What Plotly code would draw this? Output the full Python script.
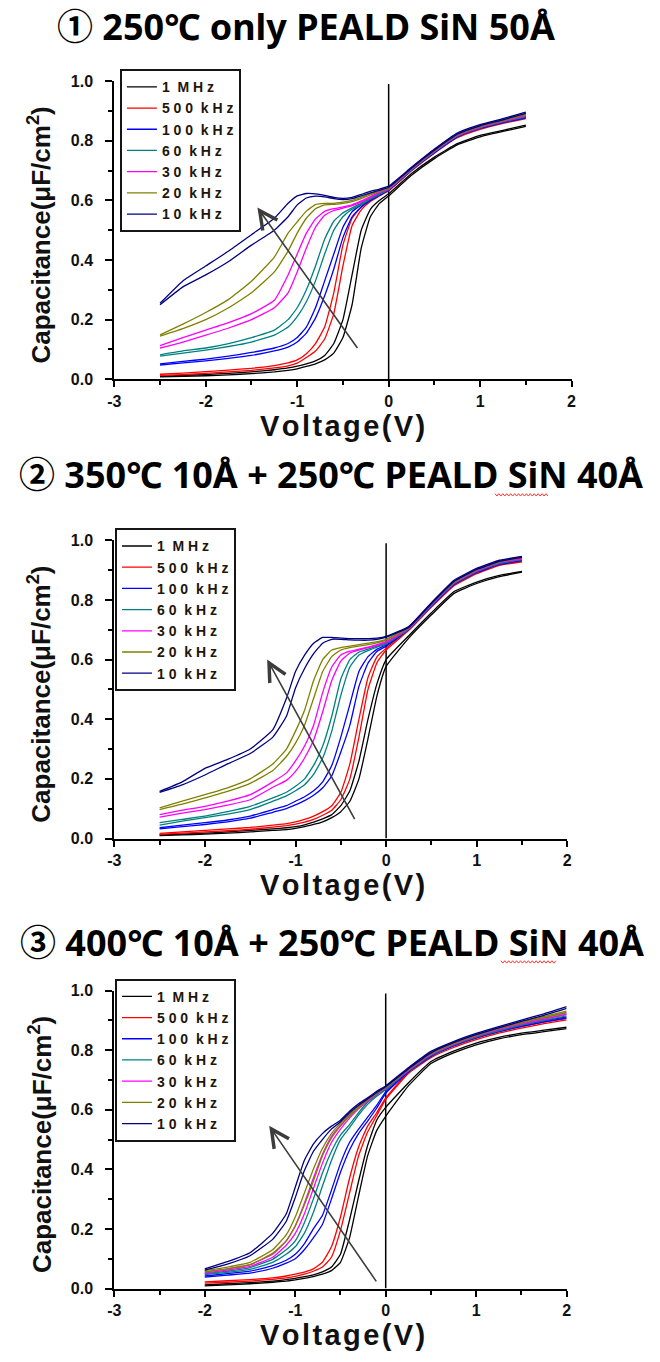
import plotly.graph_objects as go

# ---------------- data ----------------
V12 = [-2.5, -2.25, -2.0, -1.75, -1.5, -1.25, -1.1, -1.0, -0.9, -0.8, -0.7, -0.6,
       -0.5, -0.4, -0.3, -0.2, -0.1, 0.0, 0.25, 0.5, 0.75, 1.0, 1.25, 1.5]
V3 = [-2.0, -1.75, -1.5, -1.25, -1.1, -1.0, -0.9, -0.8, -0.7, -0.6, -0.5, -0.4,
      -0.3, -0.2, -0.1, 0.0, 0.25, 0.5, 0.75, 1.0, 1.25, 1.5, 1.75, 2.0]

FREQ_NAMES = ["1 MHz", "500 kHz", "100 kHz", "60 kHz", "30 kHz", "20 kHz", "10 kHz"]
LEGEND_TEXT = ["1\u00a0\u00a0M\u00a0H\u00a0z", "5\u00a00\u00a00\u00a0\u00a0k\u00a0H\u00a0z",
               "1\u00a00\u00a00\u00a0\u00a0k\u00a0H\u00a0z", "6\u00a00\u00a0\u00a0k\u00a0H\u00a0z",
               "3\u00a00\u00a0\u00a0k\u00a0H\u00a0z", "2\u00a00\u00a0\u00a0k\u00a0H\u00a0z",
               "1\u00a00\u00a0\u00a0k\u00a0H\u00a0z"]
COLORS = ["#000000", "#ff0000", "#0000ff", "#008080", "#ff00ff", "#808000", "#000080"]

TITLES = ["\u2460 250\u2103 only PEALD SiN 50\u00c5",
          "\u2461 350\u2103 10\u00c5 + 250\u2103 PEALD SiN 40\u00c5",
          "\u2462 400\u2103 10\u00c5 + 250\u2103 PEALD SiN 40\u00c5"]
X_TITLE = "V\u200ao\u200al\u200at\u200aa\u200ag\u200ae\u200a(\u200aV\u200a)"
Y_TITLE = "Capacitance(\u03bcF/cm<sup>2</sup>)"

X_TICKS = [-3, -2, -1, 0, 1, 2]
X_TICK_LABELS = ["-3", "-2", "-1", "0", "1", "2"]
Y_TICKS = [0.0, 0.2, 0.4, 0.6, 0.8, 1.0]
Y_TICK_LABELS = ["0.0", "0.2", "0.4", "0.6", "0.8", "1.0"]

# Panel 1 : 250C only PEALD SiN 50A  (A / B = the two sweep directions)
P1_1M_A = [0.010,0.013,0.016,0.020,0.025,0.032,0.038,0.044,0.052,0.062,0.080,0.120,0.200,0.350,0.500,0.570,0.600,0.622,0.690,0.745,0.790,0.818,0.835,0.852]
P1_1M_B = [0.008,0.010,0.012,0.015,0.019,0.025,0.030,0.035,0.043,0.052,0.065,0.088,0.140,0.250,0.440,0.545,0.590,0.615,0.684,0.740,0.786,0.813,0.831,0.848]
P1_500K_A = [0.017,0.021,0.026,0.031,0.037,0.046,0.055,0.065,0.086,0.120,0.175,0.290,0.450,0.540,0.578,0.600,0.618,0.634,0.702,0.762,0.814,0.842,0.862,0.878]
P1_500K_B = [0.013,0.016,0.020,0.025,0.030,0.038,0.045,0.054,0.073,0.095,0.135,0.220,0.380,0.515,0.568,0.596,0.615,0.632,0.699,0.758,0.810,0.838,0.858,0.874]
P1_100K_A = [0.052,0.060,0.068,0.078,0.090,0.105,0.120,0.140,0.175,0.240,0.330,0.420,0.510,0.562,0.585,0.603,0.620,0.636,0.704,0.764,0.817,0.845,0.865,0.881]
P1_100K_B = [0.048,0.055,0.062,0.070,0.080,0.095,0.108,0.125,0.155,0.205,0.280,0.370,0.475,0.545,0.578,0.600,0.617,0.634,0.701,0.760,0.813,0.841,0.861,0.877]
P1_60K_A = [0.082,0.095,0.105,0.120,0.140,0.165,0.200,0.240,0.300,0.380,0.470,0.530,0.558,0.575,0.590,0.607,0.623,0.638,0.705,0.766,0.819,0.847,0.867,0.884]
P1_60K_B = [0.078,0.088,0.098,0.110,0.125,0.148,0.175,0.210,0.260,0.330,0.420,0.500,0.545,0.570,0.586,0.604,0.620,0.636,0.702,0.762,0.815,0.843,0.863,0.880]
P1_30K_A = [0.113,0.140,0.165,0.190,0.220,0.265,0.350,0.420,0.490,0.538,0.563,0.572,0.578,0.585,0.598,0.613,0.628,0.640,0.707,0.768,0.821,0.849,0.869,0.887]
P1_30K_B = [0.105,0.125,0.148,0.172,0.200,0.240,0.290,0.360,0.440,0.510,0.550,0.566,0.574,0.582,0.595,0.610,0.626,0.638,0.704,0.764,0.817,0.845,0.865,0.883]
P1_20K_A = [0.149,0.185,0.224,0.268,0.329,0.410,0.490,0.528,0.564,0.586,0.590,0.590,0.594,0.600,0.610,0.622,0.632,0.643,0.709,0.770,0.823,0.851,0.871,0.891]
P1_20K_B = [0.145,0.170,0.200,0.240,0.290,0.360,0.430,0.490,0.540,0.572,0.585,0.587,0.590,0.596,0.606,0.618,0.630,0.641,0.706,0.766,0.819,0.847,0.867,0.887]
P1_10K_A = [0.255,0.330,0.380,0.430,0.485,0.540,0.590,0.615,0.623,0.622,0.617,0.610,0.607,0.610,0.620,0.630,0.638,0.648,0.711,0.772,0.826,0.854,0.874,0.896]
P1_10K_B = [0.250,0.310,0.350,0.395,0.450,0.500,0.545,0.585,0.608,0.614,0.612,0.606,0.603,0.606,0.615,0.625,0.634,0.644,0.708,0.768,0.822,0.850,0.870,0.892]

# Panel 2 : 350C 10A + 250C PEALD SiN 40A
P2_1M_A = [0.012,0.015,0.018,0.022,0.027,0.032,0.036,0.040,0.046,0.055,0.066,0.080,0.110,0.160,0.260,0.400,0.520,0.600,0.680,0.757,0.828,0.860,0.882,0.896]
P2_1M_B = [0.010,0.012,0.015,0.018,0.022,0.027,0.030,0.034,0.040,0.047,0.056,0.070,0.090,0.125,0.200,0.335,0.480,0.577,0.672,0.750,0.822,0.855,0.878,0.893]
P2_500K_A = [0.017,0.022,0.027,0.032,0.037,0.045,0.050,0.056,0.064,0.075,0.090,0.110,0.155,0.250,0.400,0.540,0.610,0.638,0.702,0.780,0.852,0.892,0.920,0.932]
P2_500K_B = [0.014,0.018,0.022,0.026,0.031,0.038,0.043,0.048,0.055,0.064,0.078,0.095,0.130,0.200,0.340,0.500,0.590,0.632,0.698,0.776,0.848,0.888,0.916,0.928]
P2_100K_A = [0.036,0.045,0.053,0.062,0.075,0.097,0.110,0.125,0.140,0.160,0.190,0.245,0.340,0.450,0.560,0.610,0.635,0.649,0.704,0.783,0.856,0.896,0.923,0.936]
P2_100K_B = [0.032,0.040,0.047,0.056,0.068,0.088,0.100,0.113,0.127,0.145,0.170,0.210,0.290,0.380,0.510,0.588,0.628,0.645,0.701,0.779,0.852,0.892,0.919,0.932]
P2_60K_A = [0.053,0.064,0.075,0.090,0.108,0.136,0.155,0.175,0.200,0.245,0.310,0.410,0.535,0.600,0.625,0.635,0.645,0.655,0.705,0.785,0.858,0.899,0.926,0.939]
P2_60K_B = [0.045,0.058,0.070,0.082,0.097,0.125,0.143,0.160,0.180,0.215,0.270,0.360,0.480,0.575,0.615,0.630,0.642,0.652,0.702,0.781,0.854,0.895,0.922,0.935]
P2_30K_A = [0.080,0.095,0.108,0.125,0.147,0.190,0.220,0.260,0.310,0.380,0.490,0.575,0.615,0.628,0.635,0.642,0.650,0.660,0.707,0.787,0.861,0.901,0.929,0.941]
P2_30K_B = [0.072,0.085,0.097,0.112,0.130,0.172,0.195,0.225,0.270,0.330,0.425,0.530,0.595,0.622,0.632,0.640,0.648,0.658,0.704,0.783,0.857,0.897,0.925,0.938]
P2_20K_A = [0.103,0.125,0.147,0.170,0.200,0.250,0.300,0.360,0.430,0.530,0.600,0.632,0.640,0.645,0.650,0.655,0.660,0.668,0.709,0.789,0.863,0.904,0.931,0.945]
P2_20K_B = [0.097,0.115,0.136,0.158,0.185,0.228,0.275,0.320,0.380,0.470,0.560,0.610,0.632,0.640,0.645,0.650,0.656,0.665,0.706,0.785,0.859,0.900,0.927,0.942]
P2_10K_A = [0.158,0.190,0.235,0.265,0.300,0.365,0.470,0.560,0.615,0.655,0.674,0.674,0.672,0.670,0.670,0.670,0.672,0.678,0.711,0.791,0.866,0.906,0.933,0.946]
P2_10K_B = [0.155,0.180,0.213,0.250,0.285,0.340,0.410,0.505,0.570,0.620,0.655,0.668,0.668,0.666,0.665,0.665,0.668,0.675,0.708,0.787,0.862,0.902,0.929,0.943]

# Panel 3 : 400C 10A + 250C PEALD SiN 40A
P3_1M_A = [0.012,0.016,0.020,0.025,0.030,0.034,0.040,0.046,0.056,0.072,0.115,0.230,0.360,0.480,0.565,0.608,0.690,0.762,0.797,0.824,0.843,0.857,0.867,0.877]
P3_1M_B = [0.009,0.012,0.016,0.021,0.025,0.029,0.034,0.040,0.048,0.060,0.088,0.170,0.310,0.445,0.530,0.578,0.680,0.755,0.791,0.818,0.838,0.852,0.862,0.872]
P3_500K_A = [0.022,0.026,0.030,0.036,0.042,0.048,0.055,0.066,0.088,0.140,0.240,0.370,0.475,0.545,0.590,0.640,0.727,0.780,0.814,0.840,0.862,0.879,0.894,0.907]
P3_500K_B = [0.018,0.021,0.025,0.031,0.036,0.041,0.048,0.058,0.072,0.105,0.195,0.320,0.445,0.525,0.580,0.635,0.722,0.775,0.809,0.835,0.857,0.874,0.889,0.902]
P3_100K_A = [0.042,0.050,0.058,0.077,0.095,0.115,0.150,0.200,0.245,0.330,0.420,0.490,0.535,0.575,0.615,0.660,0.731,0.783,0.818,0.845,0.866,0.884,0.899,0.912]
P3_100K_B = [0.038,0.045,0.052,0.068,0.085,0.100,0.130,0.170,0.215,0.300,0.390,0.465,0.520,0.562,0.605,0.655,0.727,0.779,0.814,0.841,0.862,0.880,0.895,0.908]
P3_60K_A = [0.050,0.058,0.070,0.098,0.130,0.160,0.220,0.300,0.387,0.460,0.515,0.550,0.590,0.625,0.650,0.670,0.734,0.786,0.821,0.848,0.869,0.888,0.904,0.920]
P3_60K_B = [0.047,0.054,0.064,0.088,0.115,0.140,0.185,0.255,0.343,0.430,0.500,0.540,0.582,0.618,0.645,0.667,0.730,0.782,0.817,0.844,0.865,0.884,0.900,0.915]
P3_30K_A = [0.055,0.066,0.080,0.115,0.160,0.210,0.285,0.370,0.450,0.510,0.548,0.580,0.608,0.632,0.655,0.675,0.736,0.789,0.823,0.851,0.873,0.892,0.908,0.926]
P3_30K_B = [0.052,0.062,0.074,0.105,0.145,0.185,0.250,0.335,0.420,0.490,0.535,0.572,0.603,0.628,0.652,0.672,0.732,0.785,0.819,0.847,0.869,0.888,0.904,0.921]
P3_20K_A = [0.060,0.072,0.088,0.130,0.180,0.240,0.320,0.400,0.470,0.520,0.555,0.585,0.612,0.635,0.658,0.677,0.738,0.791,0.826,0.853,0.876,0.896,0.913,0.931]
P3_20K_B = [0.056,0.066,0.080,0.118,0.160,0.210,0.280,0.360,0.445,0.505,0.545,0.578,0.607,0.632,0.655,0.674,0.734,0.787,0.822,0.849,0.872,0.892,0.909,0.926]
P3_10K_A = [0.066,0.090,0.120,0.185,0.250,0.340,0.430,0.485,0.520,0.545,0.565,0.595,0.620,0.640,0.662,0.680,0.741,0.796,0.829,0.856,0.879,0.901,0.922,0.946]
P3_10K_B = [0.062,0.082,0.110,0.165,0.225,0.305,0.395,0.460,0.500,0.535,0.560,0.590,0.615,0.636,0.658,0.677,0.737,0.791,0.825,0.852,0.875,0.897,0.917,0.940]

# arrow (tail -> head) in data units, per panel
ARROW_TAIL = [(-0.33, 0.10), (-0.338, 0.06), (-0.093, 0.019)]
ARROW_HEAD = [(-1.435, 0.576), (-1.313, 0.60), (-1.288, 0.546)]

PANELS = [
    (V12, [P1_1M_A, P1_500K_A, P1_100K_A, P1_60K_A, P1_30K_A, P1_20K_A, P1_10K_A],
          [P1_1M_B, P1_500K_B, P1_100K_B, P1_60K_B, P1_30K_B, P1_20K_B, P1_10K_B]),
    (V12, [P2_1M_A, P2_500K_A, P2_100K_A, P2_60K_A, P2_30K_A, P2_20K_A, P2_10K_A],
          [P2_1M_B, P2_500K_B, P2_100K_B, P2_60K_B, P2_30K_B, P2_20K_B, P2_10K_B]),
    (V3, [P3_1M_A, P3_500K_A, P3_100K_A, P3_60K_A, P3_30K_A, P3_20K_A, P3_10K_A],
         [P3_1M_B, P3_500K_B, P3_100K_B, P3_60K_B, P3_30K_B, P3_20K_B, P3_10K_B]),
]

# ---------------- layout geometry (pixels in a 660 x 1362 page) ----------------
W, H = 660, 1362
def px(x):
    return x / W
def py(y):
    return 1 - y / H

AXES_PX = [  # x0, x1, ybottom, ytop
    (109.3, 575.0, 376.0, 74.0),
    (109.3, 570.7, 841.0, 539.0),
    (109.3, 570.0, 1296.7, 995.0),
]
LEGEND_POS = [(115, 62), (110, 527), (110, 983)]
TITLE_POS = [(305, 19), (330, 472), (331.5, 946)]
XLABEL_POS = [(341.5, 423), (341.5, 888), (341.5, 1344)]
YLABEL_POS = [(33.5, 229.5), (33.5, 694.5), (33.5, 1150.5)]
SQUIGGLES = [(497, 552, 493), (503, 559, 966)]

TICK_FONT = dict(family="Liberation Sans, Arial", size=16, color="#111", weight="bold")

fig = go.Figure()
layout = dict(width=W, height=H, margin=dict(l=0, r=0, t=0, b=0),
              paper_bgcolor="white", plot_bgcolor="white", showlegend=True)
annotations = []
shapes = []

for p, (vx, series_a, series_b) in enumerate(PANELS):
    sfx = "" if p == 0 else str(p + 1)
    xa, ya = "x" + sfx, "y" + sfx
    leg = "legend" + sfx
    for i in range(len(FREQ_NAMES)):
        for k, ys in enumerate((series_a[i], series_b[i])):
            fig.add_trace(go.Scatter(
                x=vx, y=ys, mode="lines", xaxis=xa, yaxis=ya,
                name=LEGEND_TEXT[i], legend=leg, showlegend=(k == 0),
                line=dict(color=COLORS[i], width=1.3, shape="spline", smoothing=0.4),
                hoverinfo="skip"))
    x0, x1, yb, yt = AXES_PX[p]
    layout["xaxis" + sfx] = dict(
        domain=[px(x0), px(x1)], anchor=ya, range=[-3, 2], showgrid=False, zeroline=False,
        showline=True, linecolor="black", linewidth=2, ticks="outside", ticklen=6,
        tickwidth=1.5, tickcolor="black", tickmode="array", tickvals=X_TICKS,
        ticktext=X_TICK_LABELS, tickfont=TICK_FONT, ticklabelstandoff=0,
        minor=dict(ticks="outside", ticklen=4, tickwidth=1.5, tickcolor="black",
                   tickmode="linear", tick0=-3, dtick=0.5))
    layout["yaxis" + sfx] = dict(
        domain=[py(yb), py(yt)], anchor=xa, range=[0, 1.0], showgrid=False, zeroline=False,
        showline=True, linecolor="black", linewidth=2, ticks="outside", ticklen=7,
        tickwidth=1.5, tickcolor="black", tickmode="array", tickvals=Y_TICKS,
        ticktext=Y_TICK_LABELS, tickfont=TICK_FONT, ticklabelstandoff=9,
        minor=dict(ticks="outside", ticklen=4, tickwidth=1.5, tickcolor="black",
                   tickmode="linear", tick0=0, dtick=0.1))
    lx, lyy = LEGEND_POS[p]
    layout[leg] = dict(x=px(lx), y=py(lyy), xanchor="left", yanchor="top",
                       bgcolor="white", bordercolor="#151515", borderwidth=2,
                       font=dict(family="Liberation Sans, Arial", size=14,
                                 color="#1e1608", weight="bold"),
                       itemwidth=30, tracegroupgap=0, traceorder="normal")
    # vertical reference line at V = 0
    shapes.append(dict(type="line", xref=xa, yref=ya, x0=0, x1=0, y0=0, y1=0.99,
                       line=dict(color="black", width=1.5), layer="below"))
    # arrow showing decreasing frequency
    (tx, ty), (hx, hy) = ARROW_TAIL[p], ARROW_HEAD[p]
    annotations.append(dict(xref=xa, yref=ya, axref=xa, ayref=ya, x=hx, y=hy, ax=tx, ay=ty,
                            text="", showarrow=True, arrowhead=5, arrowsize=2.2,
                            arrowwidth=1.6, arrowcolor="#3c3c3c"))
    # panel title
    tx_, ty_ = TITLE_POS[p]
    annotations.append(dict(xref="paper", yref="paper", x=px(tx_), y=py(ty_),
                            xanchor="center", yanchor="middle", showarrow=False,
                            text=TITLES[p],
                            font=dict(family="Noto Sans, Noto Sans CJK KR", size=36,
                                      color="black", weight="bold")))
    # axis titles
    ax_, ay_ = XLABEL_POS[p]
    annotations.append(dict(xref="paper", yref="paper", x=px(ax_), y=py(ay_),
                            xanchor="center", yanchor="middle", showarrow=False,
                            text=X_TITLE,
                            font=dict(family="Liberation Sans, Arial", size=29,
                                      color="#111", weight="bold")))
    yx_, yy_ = YLABEL_POS[p]
    annotations.append(dict(xref="paper", yref="paper", x=px(yx_), y=py(yy_),
                            xanchor="center", yanchor="middle", showarrow=False,
                            textangle=-90, text=Y_TITLE,
                            font=dict(family="Liberation Sans, Arial", size=26,
                                      color="#111", weight="bold")))

# red spell-check squiggle under "SiN" in titles 2 and 3
for (sx0, sx1, sy) in SQUIGGLES:
    pts = []
    n = int((sx1 - sx0) / 2)
    for j in range(n + 1):
        xx = sx0 + 2 * j
        yy = sy + (1.2 if j % 2 else -1.2)
        pts.append(f"{px(xx):.5f},{py(yy):.5f}")
    shapes.append(dict(type="path", xref="paper", yref="paper",
                       path="M" + " L".join(pts), line=dict(color="#ff3030", width=1)))

layout["annotations"] = annotations
layout["shapes"] = shapes
fig.update_layout(**layout)
fig.write_html("out.html")
